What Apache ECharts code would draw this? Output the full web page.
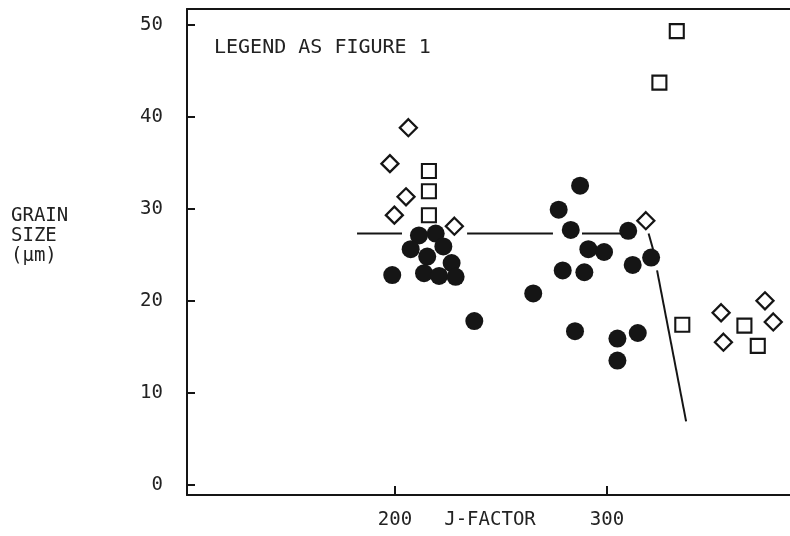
<!DOCTYPE html>
<html>
<head>
<meta charset="utf-8">
<script src="https://cdn.jsdelivr.net/npm/echarts@6/dist/echarts.min.js"></script>
<style>
  html, body { margin: 0; padding: 0; background: #fff; }
  #chart { width: 790px; height: 536px; }
</style>
</head>
<body>
<div id="chart"></div>
<script>
    // values: [J-factor, grain size (um)]
    const circles = [
        [211.3, 27.1], [219.2, 27.3], [207.4, 25.6], [222.8, 25.9], [215.2, 24.8],
        [226.7, 24.1], [198.7, 22.8], [213.7, 23.0], [220.8, 22.7], [228.6, 22.6],
        [237.4, 17.8], [287.3, 32.5], [277.2, 29.9], [282.9, 27.7], [310.0, 27.6],
        [291.2, 25.6], [298.6, 25.3], [320.8, 24.7], [312.1, 23.9], [279.1, 23.3],
        [289.3, 23.1], [265.2, 20.8], [284.9, 16.7], [304.9, 15.9], [314.5, 16.5],
        [304.9, 13.5]
    ];
    const diamonds = [
        [206.3, 38.8], [197.6, 34.9], [205.2, 31.3], [199.7, 29.3], [228.0, 28.1],
        [318.3, 28.7], [353.8, 18.7], [354.9, 15.5], [374.5, 20.0], [378.4, 17.7]
    ];
    const squares = [
        [216.0, 34.1], [216.0, 31.9], [216.0, 29.3], [332.9, 49.3], [324.7, 43.7],
        [335.5, 17.4], [364.8, 17.3], [371.1, 15.1]
    ];
    // hand drawn trend line, broken where it meets the markers
    const trendSegments = [
        [[182.1, 27.3], [203.3, 27.3]],
        [[234.0, 27.3], [274.5, 27.3]],
        [[288.2, 27.3], [310.0, 27.3]],
        [[319.6, 27.3], [321.7, 25.6]],
        [[323.6, 23.3], [337.3, 6.9]]
    ];
    const xTicks = [200, 300];
    const yTicks = [0, 10, 20, 30, 40, 50];

    const ink = '#151515';
    const font = 'DejaVu Sans Mono';

    const chart = echarts.init(document.getElementById('chart'), null, {renderer: 'canvas'});

    const series = trendSegments.map(function (seg) {
        return {
            type: 'line',
            data: seg,
            symbol: 'none',
            silent: true,
            z: 1,
            lineStyle: {color: ink, width: 2}
        };
    });
    series.push({
        type: 'scatter',
        data: circles,
        symbol: 'circle',
        symbolSize: 18,
        z: 3,
        itemStyle: {color: ink, opacity: 1}
    });
    series.push({
        type: 'scatter',
        data: diamonds,
        symbol: 'diamond',
        symbolSize: 17,
        z: 4,
        itemStyle: {color: '#fff', borderColor: ink, borderWidth: 2.3, opacity: 1}
    });
    series.push({
        type: 'scatter',
        data: squares,
        symbol: 'rect',
        symbolSize: 14,
        z: 4,
        itemStyle: {color: '#fff', borderColor: ink, borderWidth: 2.1, opacity: 1}
    });

    const option = {
        backgroundColor: '#fff',
        animation: false,
        title: {
            text: 'LEGEND AS FIGURE 1',
            left: 214,
            top: 38,
            padding: 0,
            textStyle: {fontFamily: font, fontWeight: 'normal', fontSize: 20, color: '#222'}
        },
        graphic: [{
            type: 'text',
            left: 11,
            top: 206,
            style: {
                text: 'GRAIN\nSIZE\n(\u03bcm)',
                font: '19px "' + font + '"',
                lineHeight: 20,
                fill: '#222'
            }
        }, {
            type: 'text',
            x: 490,
            y: 520,
            style: {
                text: 'J-FACTOR',
                font: '19px "' + font + '"',
                align: 'center',
                verticalAlign: 'middle',
                fill: '#222'
            }
        }],
        grid: {left: 187, right: 0, top: 9, bottom: 41, outerBoundsMode: 'none', containLabel: false},
        xAxis: [{
            type: 'value',
            min: 101.9,
            max: 386.3,
            axisLine: {show: true, onZero: false, lineStyle: {color: ink, width: 2}},
            axisTick: {show: true, inside: true, length: 9, customValues: xTicks, lineStyle: {color: ink, width: 2}},
            axisLabel: {customValues: xTicks, margin: 16, fontFamily: font, fontSize: 19, color: '#222'},
            splitLine: {show: false}
        }, {
            type: 'value',
            position: 'top',
            min: 101.9,
            max: 386.3,
            axisLine: {show: true, onZero: false, lineStyle: {color: ink, width: 2}},
            axisTick: {show: false},
            axisLabel: {show: false},
            splitLine: {show: false}
        }],
        yAxis: {
            type: 'value',
            min: -1.1,
            max: 51.7,
            axisLine: {show: true, onZero: false, lineStyle: {color: ink, width: 2}},
            axisTick: {show: true, inside: true, length: 8, customValues: yTicks, lineStyle: {color: ink, width: 2}},
            axisLabel: {customValues: yTicks, margin: 24, fontFamily: font, fontSize: 19, color: '#222'},
            splitLine: {show: false}
        },
        series: series
    };

    chart.setOption(option);
</script>
</body>
</html>
